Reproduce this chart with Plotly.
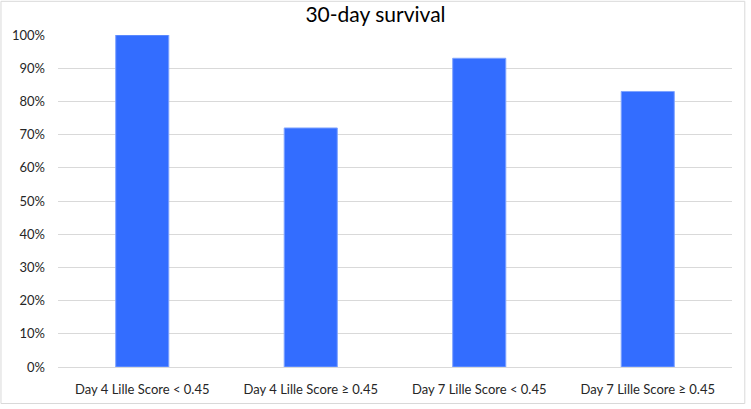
import plotly.graph_objects as go

categories = ['Day 4 Lille Score < 0.45', 'Day 4 Lille Score ≥ 0.45',
              'Day 7 Lille Score < 0.45', 'Day 7 Lille Score ≥ 0.45']
survival = [1.00, 0.72, 0.93, 0.83]

fig = go.Figure()
fig.add_trace(go.Bar(x=categories, y=survival,
                     marker=dict(color='#336dff', line=dict(color='#7fa4ff', width=1))))

# light border around the whole chart
fig.add_shape(type='rect', xref='paper', yref='paper',
              x0=-0.0846, x1=1.019, y0=-0.110, y1=1.1015,
              line=dict(color='#d9d9d9', width=1))

fig.update_layout(
    width=751, height=409,
    margin=dict(l=58, r=19, t=35, b=39),
    paper_bgcolor='white', plot_bgcolor='white',
    bargap=0.685,
    showlegend=False,
    font=dict(family='Lato', size=13, color='#262626'),
    title=dict(text='30-day survival', x=0.5, xanchor='center', y=0.965, yanchor='middle',
               font=dict(family='Lato', size=21, color='#000000')),
)
fig.update_yaxes(range=[0, 1.0001], dtick=0.1, tickformat='.0%',
                 gridcolor='#d9d9d9', gridwidth=1, zeroline=False,
                 ticks='', ticklabelstandoff=12)
fig.update_xaxes(showline=True, linecolor='#d9d9d9', ticks='', showgrid=False,
                 ticklabelstandoff=10)

# drop the default page margin so the figure sits at the window's corner
fig.write_html("out.html", config={'displayModeBar': False},
               post_script="document.body.style.margin='0';")
